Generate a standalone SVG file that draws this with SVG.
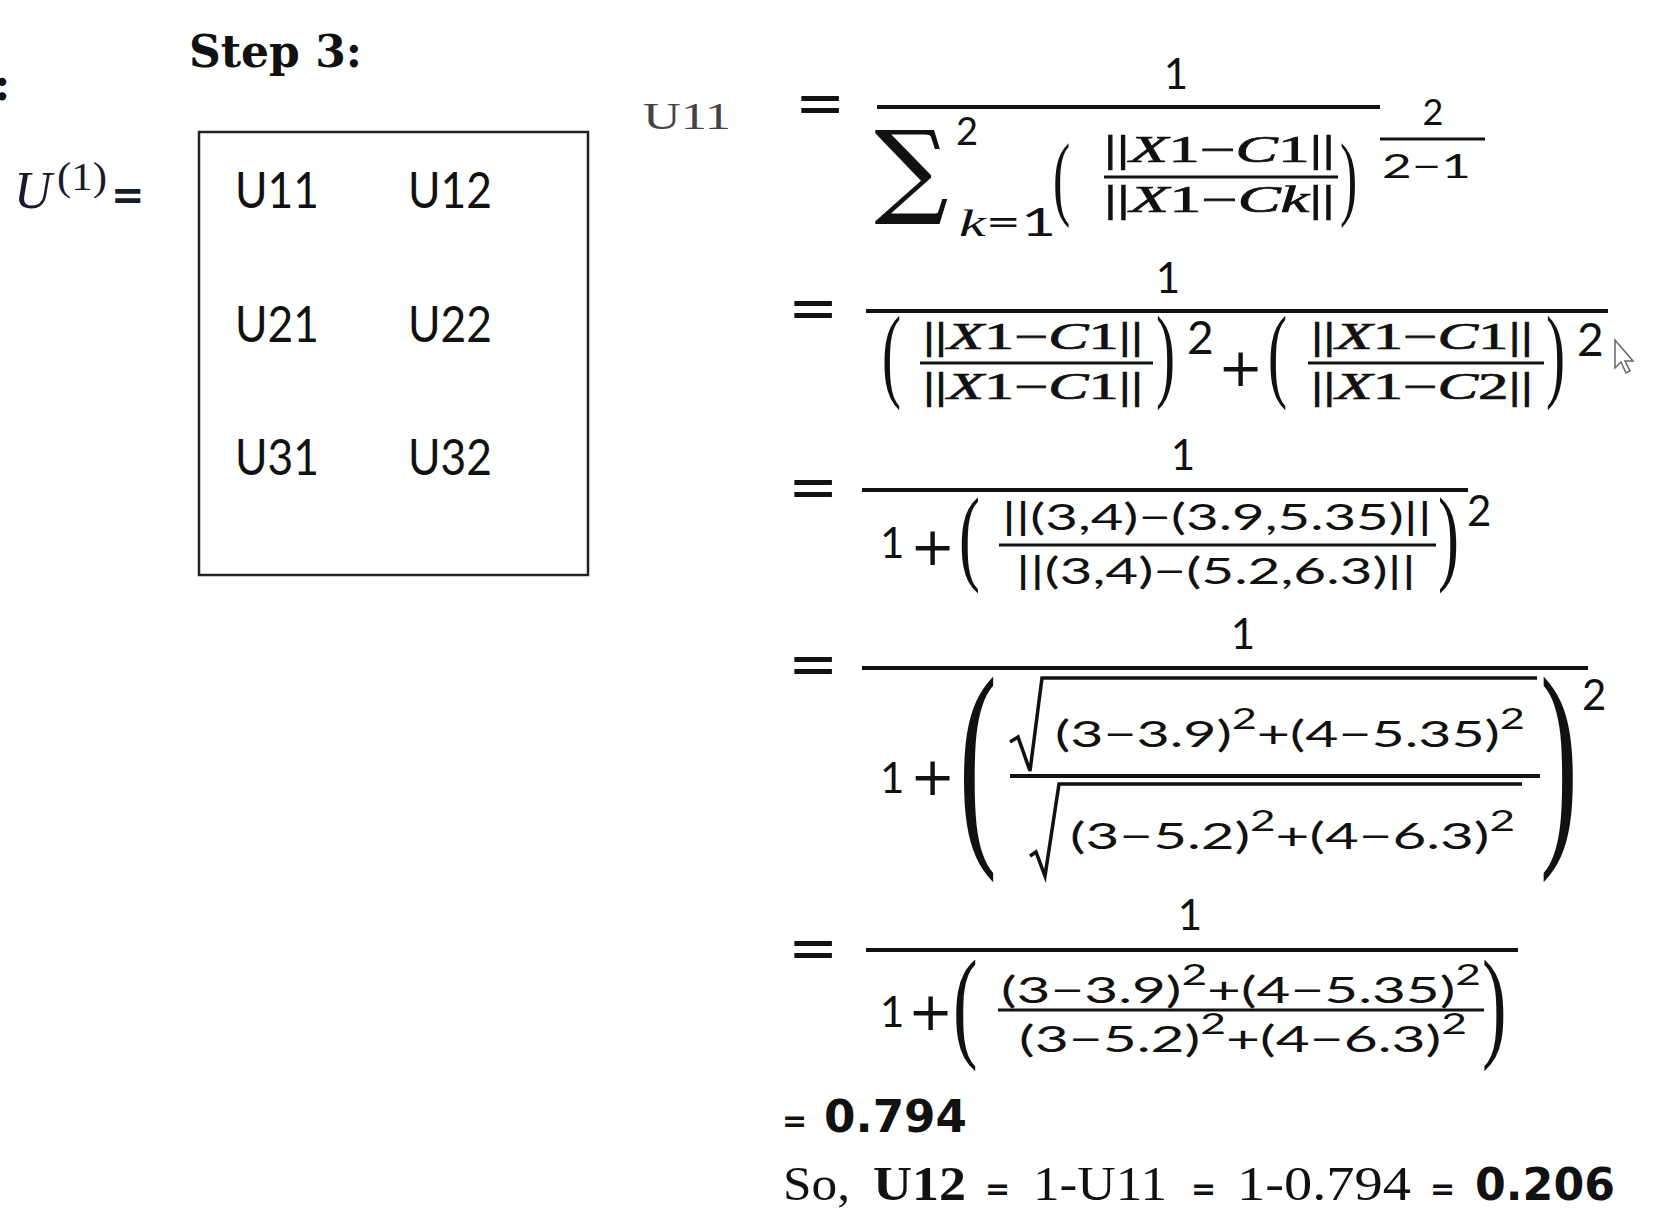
<svg xmlns="http://www.w3.org/2000/svg" width="1672" height="1226" viewBox="0 0 1672 1226">
<style>
.bg{fill:#fff}
.t{fill:#111}
.ser{font-family:"Liberation Serif","Times New Roman",serif}
.it{font-style:italic}
.ns{font-family:Lato,"Noto Sans","Liberation Sans",sans-serif}
.eq{font-family:"DejaVu Sans",sans-serif;font-size:60px}
.plus{font-family:"DejaVu Sans",sans-serif;font-size:54px}
.bar{stroke:#111;stroke-width:4;fill:none}
.bar3{stroke:#111;stroke-width:3;fill:none}
.cell{font-family:Lato,"Noto Sans",sans-serif;font-size:51px;fill:#111}
.num{font-family:Lato,"Noto Sans",sans-serif;font-size:42px;fill:#111}
.expr{font-family:Lato,"Noto Sans",sans-serif;font-size:37px;fill:#111}
.nrm{font-family:"Liberation Serif",serif;font-size:37px;fill:#111;stroke:#111;stroke-width:0.7}
.par{font-family:"Liberation Serif",serif;fill:#111}
</style>
<rect class="bg" x="0" y="0" width="1672" height="1226"/>

<g id="edge-colon">
<text x="-6" y="100" font-family="DejaVu Serif" font-weight="bold" font-size="44" class="t">:</text>
</g>

<g id="title">
<text x="189" y="67" font-family="DejaVu Serif,serif" font-weight="bold" font-size="44" class="t">Step 3:</text>
</g>

<g id="u-label">
<text x="14" y="208" class="ser it" font-size="52" fill="#1a1a2e">U</text>
<text x="57" y="190" class="ser" font-size="39" fill="#1a1a2e" textLength="50" lengthAdjust="spacingAndGlyphs">(1)</text>
<text x="111" y="209" font-family="DejaVu Sans" font-weight="bold" font-size="40" fill="#1a1a2e">=</text>
</g>

<g id="matrix">
<rect x="199" y="132" width="389" height="443" fill="none" stroke="#222" stroke-width="2.5"/>
<text class="cell" x="235" y="208" textLength="84" lengthAdjust="spacingAndGlyphs">U11</text>
<text class="cell" x="408" y="208" textLength="84" lengthAdjust="spacingAndGlyphs">U12</text>
<text class="cell" x="235" y="342" textLength="84" lengthAdjust="spacingAndGlyphs">U21</text>
<text class="cell" x="408" y="342" textLength="84" lengthAdjust="spacingAndGlyphs">U22</text>
<text class="cell" x="235" y="475" textLength="84" lengthAdjust="spacingAndGlyphs">U31</text>
<text class="cell" x="408" y="475" textLength="84" lengthAdjust="spacingAndGlyphs">U32</text>
</g>

<g id="u11-label">
<text x="643" y="129" class="ser" font-size="38" fill="#444" textLength="88" lengthAdjust="spacingAndGlyphs">U11</text>
</g>

<g id="formula1">
<text class="eq t" x="795" y="123">=</text>
<text class="num" x="1176" y="89" text-anchor="middle">1</text>
<line class="bar" x1="877" y1="107" x2="1380" y2="107"/>
<text x="875" y="204" font-family="DejaVu Serif,serif" font-size="102" class="t" stroke="#111" stroke-width="1">∑</text>
<text x="956" y="145" class="ns" font-size="38" fill="#111">2</text>
<text x="959" y="236" font-size="38" fill="#111" textLength="97" lengthAdjust="spacingAndGlyphs"><tspan class="ser it">k</tspan><tspan class="ns">=1</tspan></text>
<text class="par" font-size="94" transform="translate(1053,208) scale(0.55,1)">(</text>
<text class="nrm" x="1104" y="162" textLength="231" lengthAdjust="spacingAndGlyphs">||<tspan class="it">X</tspan>1−<tspan class="it">C</tspan>1||</text>
<line class="bar3" x1="1104" y1="177" x2="1338" y2="177"/>
<text class="nrm" x="1104" y="212" textLength="231" lengthAdjust="spacingAndGlyphs">||<tspan class="it">X</tspan>1−<tspan class="it">Ck</tspan>||</text>
<text class="par" font-size="94" transform="translate(1340,208) scale(0.55,1)">)</text>
<text x="1433" y="125" class="ns" font-size="36" fill="#111" text-anchor="middle">2</text>
<line class="bar3" x1="1380" y1="139" x2="1485" y2="139"/>
<text x="1382" y="178" class="ns" font-size="33" fill="#111" textLength="89" lengthAdjust="spacingAndGlyphs">2−1</text>
</g>

<g id="formula2">
<text class="eq t" x="788" y="328">=</text>
<text class="num" x="1168" y="293" text-anchor="middle">1</text>
<line class="bar" x1="866" y1="311" x2="1608" y2="311"/>
<text class="par" font-size="104" transform="translate(882,388) scale(0.55,1)">(</text>
<text class="nrm" x="923" y="349" textLength="220" lengthAdjust="spacingAndGlyphs">||<tspan class="it">X</tspan>1−<tspan class="it">C</tspan>1||</text>
<line class="bar3" x1="920" y1="363" x2="1153" y2="363"/>
<text class="nrm" x="923" y="399" textLength="220" lengthAdjust="spacingAndGlyphs">||<tspan class="it">X</tspan>1−<tspan class="it">C</tspan>1||</text>
<text class="par" font-size="104" transform="translate(1156,388) scale(0.55,1)">)</text>
<text x="1187" y="354" class="ns" font-size="46" fill="#111">2</text>
<text class="plus t" x="1218" y="386">+</text>
<text class="par" font-size="104" transform="translate(1268,388) scale(0.55,1)">(</text>
<text class="nrm" x="1311" y="349" textLength="222" lengthAdjust="spacingAndGlyphs">||<tspan class="it">X</tspan>1−<tspan class="it">C</tspan>1||</text>
<line class="bar3" x1="1308" y1="363" x2="1544" y2="363"/>
<text class="nrm" x="1311" y="399" textLength="222" lengthAdjust="spacingAndGlyphs">||<tspan class="it">X</tspan>1−<tspan class="it">C</tspan>2||</text>
<text class="par" font-size="104" transform="translate(1546,388) scale(0.55,1)">)</text>
<text x="1577" y="356" class="ns" font-size="46" fill="#111">2</text>
<polygon points="1615,340 1615,368 1621,362 1626,373 1630,371 1625,361 1633,361" fill="#fff" stroke="#666" stroke-width="1.5"/>
</g>

<g id="formula3">
<text class="eq t" x="788" y="507">=</text>
<text class="num" x="1183" y="470" text-anchor="middle">1</text>
<line class="bar" x1="862" y1="490" x2="1468" y2="490"/>
<text class="num" x="880" y="558">1</text>
<text class="plus t" x="910" y="565">+</text>
<text class="par" font-size="105" transform="translate(959,571) scale(0.6,1)">(</text>
<text class="expr" x="1002" y="530" textLength="430" lengthAdjust="spacingAndGlyphs">||(3,4)−(3.9,5.35)||</text>
<line class="bar3" x1="999" y1="545" x2="1436" y2="545"/>
<text class="expr" x="1016" y="584" textLength="400" lengthAdjust="spacingAndGlyphs">||(3,4)−(5.2,6.3)||</text>
<text class="par" font-size="105" transform="translate(1438,571) scale(0.6,1)">)</text>
<text x="1467" y="526" class="ns" font-size="42" fill="#111">2</text>
</g>

<g id="formula4">
<text class="eq t" x="788" y="684">=</text>
<text class="num" x="1243" y="649" text-anchor="middle">1</text>
<line class="bar" x1="862" y1="668" x2="1588" y2="668"/>
<text class="num" x="880" y="793">1</text>
<text class="plus t" x="910" y="795">+</text>
<text class="par" font-size="227" transform="translate(959,834) scale(0.5,1)">(</text>
<path d="M1010,742 L1018,737 L1030,771 L1042,678 L1537,678" fill="none" stroke="#111" stroke-width="3.5"/>
<text class="expr" x="1055" y="747" textLength="470" lengthAdjust="spacingAndGlyphs">(3−3.9)<tspan dy="-18" font-size="28">2</tspan><tspan dy="18">+(4−5.35)</tspan><tspan dy="-18" font-size="28">2</tspan></text>
<line class="bar" x1="1010" y1="776" x2="1540" y2="776"/>
<path d="M1030,856 L1036,852 L1045,876 L1059,784 L1522,784" fill="none" stroke="#111" stroke-width="3.5"/>
<text class="expr" x="1070" y="849" textLength="445" lengthAdjust="spacingAndGlyphs">(3−5.2)<tspan dy="-18" font-size="28">2</tspan><tspan dy="18">+(4−6.3)</tspan><tspan dy="-18" font-size="28">2</tspan></text>
<text class="par" font-size="227" transform="translate(1540,834) scale(0.5,1)">)</text>
<text x="1582" y="710" class="ns" font-size="42" fill="#111">2</text>
</g>

<g id="formula5">
<text class="eq t" x="788" y="968">=</text>
<text class="num" x="1190" y="930" text-anchor="middle">1</text>
<line class="bar" x1="866" y1="950" x2="1518" y2="950"/>
<text class="num" x="880" y="1027">1</text>
<text class="plus t" x="908" y="1030">+</text>
<text class="par" font-size="123" transform="translate(953,1045) scale(0.6,1)">(</text>
<text class="expr" x="1001" y="1003" textLength="480" lengthAdjust="spacingAndGlyphs">(3−3.9)<tspan dy="-18" font-size="28">2</tspan><tspan dy="18">+(4−5.35)</tspan><tspan dy="-18" font-size="28">2</tspan></text>
<line class="bar3" x1="998" y1="1010" x2="1484" y2="1010"/>
<text class="expr" x="1019" y="1052" textLength="448" lengthAdjust="spacingAndGlyphs">(3−5.2)<tspan dy="-18" font-size="28">2</tspan><tspan dy="18">+(4−6.3)</tspan><tspan dy="-18" font-size="28">2</tspan></text>
<text class="par" font-size="123" transform="translate(1482,1045) scale(0.6,1)">)</text>
</g>

<g id="result">
<text x="782" y="1131" font-family="DejaVu Sans" font-weight="bold" font-size="30" class="t">=</text>
<text x="824" y="1132" font-family="DejaVu Sans" font-weight="bold" font-size="44" class="t" textLength="143" lengthAdjust="spacingAndGlyphs">0.794</text>
</g>

<g id="conclusion">
<text x="783" y="1200" class="ser" font-size="48" fill="#111" textLength="67" lengthAdjust="spacingAndGlyphs">So,</text>
<text x="873" y="1200" class="ser" font-weight="bold" font-size="48" fill="#111" textLength="93" lengthAdjust="spacingAndGlyphs">U12</text>
<text x="985" y="1199" font-family="DejaVu Sans" font-weight="bold" font-size="30" class="t">=</text>
<text x="1033" y="1200" class="ser" font-size="48" fill="#111" textLength="134" lengthAdjust="spacingAndGlyphs">1-U11</text>
<text x="1191" y="1199" font-family="DejaVu Sans" font-weight="bold" font-size="30" class="t">=</text>
<text x="1237" y="1200" class="ser" font-size="48" fill="#111" textLength="174" lengthAdjust="spacingAndGlyphs">1-0.794</text>
<text x="1430" y="1199" font-family="DejaVu Sans" font-weight="bold" font-size="30" class="t">=</text>
<text x="1475" y="1200" font-family="DejaVu Sans" font-weight="bold" font-size="44" class="t" textLength="140" lengthAdjust="spacingAndGlyphs">0.206</text>
</g>
</svg>
